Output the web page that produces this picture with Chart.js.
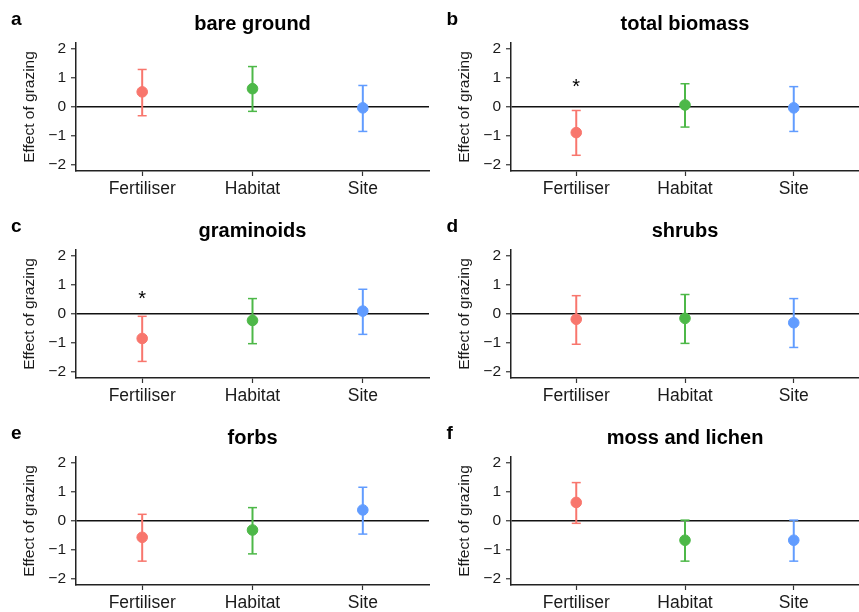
<!DOCTYPE html>
<html>
<head>
<meta charset="utf-8">
<script src="https://cdn.jsdelivr.net/npm/chart.js@4"></script>
<style>
  body { margin: 0; background: #fff; }
  #wrap { position: relative; width: 859px; height: 612px; }
  .panel { position: absolute; }
</style>
</head>
<body>
<div id="wrap"></div>
<script>
// categories and colours
const categories = ['Fertiliser', 'Habitat', 'Site'];
const colors = ['#F8766D', '#4DB848', '#619CFF'];
const yTicks = [-2, -1, 0, 1, 2];
const yTickLabels = ['\u22122', '\u22121', '0', '1', '2'];

// panels
const letters = ['a', 'b', 'c', 'd', 'e', 'f'];
const titles = ['bare ground', 'total biomass', 'graminoids', 'shrubs', 'forbs', 'moss and lichen'];

// estimates (Fertiliser, Habitat, Site) per panel
const estBare = [0.52, 0.63, -0.03];
const lowBare = [-0.30, -0.15, -0.84];
const highBare = [1.29, 1.39, 0.74];

const estBiomass = [-0.88, 0.07, -0.03];
const lowBiomass = [-1.66, -0.69, -0.84];
const highBiomass = [-0.12, 0.80, 0.70];

const estGram = [-0.84, -0.22, 0.10];
const lowGram = [-1.63, -1.02, -0.70];
const highGram = [-0.08, 0.53, 0.85];

const estShrub = [-0.18, -0.15, -0.30];
const lowShrub = [-1.04, -1.01, -1.15];
const highShrub = [0.63, 0.67, 0.53];

const estForb = [-0.56, -0.31, 0.38];
const lowForb = [-1.38, -1.13, -0.45];
const highForb = [0.23, 0.46, 1.16];

const estMoss = [0.64, -0.66, -0.66];
const lowMoss = [-0.08, -1.38, -1.38];
const highMoss = [1.32, 0.03, 0.03];

// significance stars (y position of '*', null = none)
const starBare = [null, null, null];
const starBiomass = [0.86, null, null];
const starGram = [0.68, null, null];
const starShrub = [null, null, null];
const starForb = [null, null, null];
const starMoss = [null, null, null];

const panelEst = [estBare, estBiomass, estGram, estShrub, estForb, estMoss];
const panelLow = [lowBare, lowBiomass, lowGram, lowShrub, lowForb, lowMoss];
const panelHigh = [highBare, highBiomass, highGram, highShrub, highForb, highMoss];
const panelStars = [starBare, starBiomass, starGram, starShrub, starForb, starMoss];

const FONT = "'Liberation Sans', Arial, Helvetica, sans-serif";

// draws panel letter, title and asterisks
const decorPlugin = {
  id: 'decor',
  afterDraw(chart, args, opts) {
    const ctx = chart.ctx;
    const area = chart.chartArea;
    ctx.save();
    ctx.fillStyle = '#000';
    ctx.font = 'bold 19px ' + FONT;
    ctx.textAlign = 'left';
    ctx.textBaseline = 'alphabetic';
    ctx.fillText(opts.letter, opts.letterX, 25);
    ctx.font = 'bold 20px ' + FONT;
    ctx.textAlign = 'center';
    ctx.fillText(opts.title, (area.left + area.right) / 2, 30);
    ctx.font = '20px ' + FONT;
    opts.stars.forEach((s, i) => {
      if (s === null) return;
      const x = chart.scales.x.getPixelForValue(i + 1);
      const y = chart.scales.y.getPixelForValue(s);
      ctx.fillText('*', x, y + 11);
    });
    ctx.restore();
  }
};

const wrap = document.getElementById('wrap');

for (let p = 0; p < 6; p++) {
  const col = p % 2;
  const row = Math.floor(p / 2);
  const left = col === 0 ? 0 : 430;
  const width = col === 0 ? 430 : 429;
  const top = row * 207;
  const height = 207;

  const div = document.createElement('div');
  div.className = 'panel';
  div.style.left = left + 'px';
  div.style.top = top + 'px';
  div.style.width = width + 'px';
  div.style.height = height + 'px';
  const canvas = document.createElement('canvas');
  div.appendChild(canvas);
  wrap.appendChild(div);

  const est = panelEst[p], low = panelLow[p], high = panelHigh[p];
  const datasets = [];
  // error bars: one line dataset per category, caps as horizontal line points
  categories.forEach((c, i) => {
    datasets.push({
      type: 'line',
      data: [{ x: i + 1, y: low[i] }, { x: i + 1, y: high[i] }],
      borderColor: colors[i],
      borderWidth: 2,
      pointStyle: 'line',
      pointRadius: 4.5,
      pointBorderWidth: 1.5,
      pointBorderColor: colors[i],
      pointHoverRadius: 4.5
    });
  });
  // point estimates
  datasets.push({
    type: 'scatter',
    data: est.map((v, i) => ({ x: i + 1, y: v })),
    backgroundColor: colors,
    borderColor: colors,
    pointRadius: 5.3,
    pointHoverRadius: 5.3
  });

  const yAxisWidth = col === 0 ? 76 : 81;

  new Chart(canvas, {
    type: 'scatter',
    data: { datasets },
    options: {
      responsive: true,
      maintainAspectRatio: false,
      animation: false,
      events: [],
      layout: { autoPadding: false, padding: { top: 43, right: col === 0 ? 1 : 0, left: 0, bottom: 0 } },
      plugins: {
        legend: { display: false },
        tooltip: { enabled: false },
        decor: { letter: letters[p], title: titles[p], stars: panelStars[p], letterX: col === 0 ? 11 : 16.5 }
      },
      scales: {
        x: {
          type: 'linear',
          min: 0.4,
          max: 3.6,
          afterBuildTicks: s => { s.ticks = categories.map((c, i) => ({ value: i + 1 })); },
          afterFit: s => { s.height = 36; s.paddingLeft = 0; s.paddingRight = 0; },
          ticks: {
            callback: v => categories[v - 1],
            color: '#1a1a1a',
            font: { family: FONT, size: 17.5 },
            padding: 3,
            maxRotation: 0
          },
          grid: { drawOnChartArea: false, tickLength: 5, tickColor: '#333', tickWidth: 1.2 },
          border: { color: '#222', width: 1.5 }
        },
        y: {
          min: -2.2,
          max: 2.2,
          afterBuildTicks: s => { s.ticks = yTicks.map(v => ({ value: v })); },
          afterFit: s => { s.width = yAxisWidth; s.paddingTop = 0; s.paddingBottom = 0; },
          ticks: {
            callback: v => yTickLabels[yTicks.indexOf(v)],
            color: '#1a1a1a',
            font: { family: FONT, size: 15.5 },
            padding: 5
          },
          grid: {
            color: c => (c.tick && c.tick.value === 0 ? '#111' : 'rgba(0,0,0,0)'),
            lineWidth: 1.5,
            tickColor: '#333',
            tickWidth: 1.2,
            tickLength: 5
          },
          border: { color: '#222', width: 1.5 },
          title: {
            display: true,
            text: 'Effect of grazing',
            color: '#1a1a1a',
            font: { family: FONT, size: 15.5 },
            padding: { top: col === 0 ? 20 : 25, bottom: 0 }
          }
        }
      }
    },
    plugins: [decorPlugin]
  });
}
</script>
</body>
</html>
